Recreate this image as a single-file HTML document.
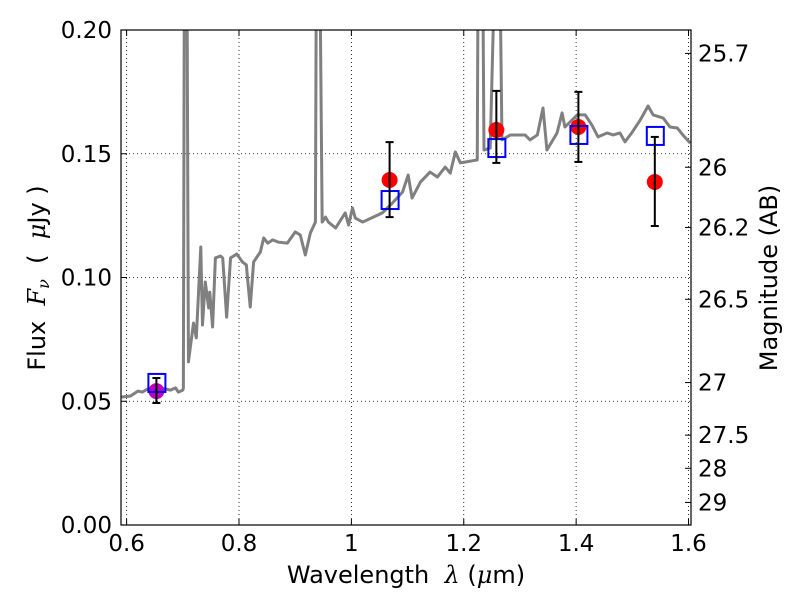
<!DOCTYPE html>
<html><head><meta charset="utf-8"><style>
body{margin:0;background:#fff;}
svg text{font-family:"DejaVu Sans","Liberation Sans",sans-serif;fill:#000;}
.m{font-family:"DejaVu Serif","Liberation Serif",serif;font-style:italic;}
</style></head><body>
<svg id="chart" width="800" height="600" xmlns="http://www.w3.org/2000/svg">
<defs><clipPath id="clip"><rect x="121" y="30" width="570" height="495"/></clipPath></defs>
<g id="grid"></g>
<g id="spec" clip-path="url(#clip)"></g>
<g id="pts"></g>
<rect x="121" y="30" width="570" height="495" fill="none" stroke="#000" stroke-width="1.2"/>
<g id="axes"></g>
<text x="406" y="583" font-size="24" text-anchor="middle">Wavelength&#160;&#160;<tspan class="m">λ</tspan> (<tspan class="m">μ</tspan>m)</text>
<text transform="translate(45,278) rotate(-90)" font-size="24" text-anchor="middle">Flux&#160;&#160;<tspan class="m">F<tspan font-size="16" dy="4">ν</tspan></tspan><tspan dy="-4">&#160;&#160;(&#160;&#160;</tspan><tspan class="m">μ</tspan>Jy&#160;)</text>
<text transform="translate(777,278) rotate(-90)" font-size="24" text-anchor="middle">Magnitude (AB)</text>
</svg>
<script>
const specW=[0.591,0.607,0.620,0.628,0.637,0.643,0.652,0.660,0.678,0.687,0.692,0.700,0.701,0.703,0.707,0.710,0.719,0.724,0.732,0.735,0.740,0.746,0.748,0.753,0.758,0.767,0.771,0.778,0.785,0.796,0.806,0.813,0.820,0.826,0.838,0.844,0.851,0.860,0.870,0.886,0.900,0.909,0.918,0.927,0.936,0.938,0.943,0.948,0.954,0.959,0.972,0.989,0.995,1.002,1.007,1.020,1.039,1.055,1.073,1.091,1.101,1.108,1.123,1.140,1.153,1.167,1.176,1.185,1.194,1.224,1.226,1.233,1.236,1.247,1.258,1.263,1.268,1.283,1.309,1.318,1.331,1.341,1.348,1.366,1.375,1.380,1.402,1.416,1.428,1.439,1.455,1.466,1.478,1.487,1.500,1.514,1.528,1.537,1.555,1.567,1.580,1.590,1.603];
const specF=[0.0517,0.0521,0.0541,0.0537,0.0549,0.0545,0.0541,0.0554,0.0545,0.0554,0.0537,0.0545,0.0554,0.25,0.25,0.0659,0.0816,0.0756,0.1123,0.0808,0.0982,0.0877,0.0941,0.0800,0.1079,0.1087,0.1079,0.0840,0.1079,0.1095,0.1063,0.1051,0.0881,0.1063,0.1103,0.1160,0.1139,0.1152,0.1143,0.1139,0.1184,0.1172,0.1091,0.1180,0.1224,0.25,0.25,0.1224,0.1244,0.1224,0.1200,0.1261,0.1212,0.1281,0.1240,0.1224,0.1244,0.1261,0.1301,0.1345,0.1414,0.1321,0.1386,0.1426,0.1406,0.1446,0.1422,0.1507,0.1463,0.1475,0.25,0.25,0.1515,0.1523,0.25,0.25,0.1556,0.1576,0.1576,0.1556,0.1576,0.1685,0.1515,0.1584,0.1665,0.1608,0.1657,0.1657,0.1616,0.1568,0.1584,0.1576,0.1584,0.1548,0.1588,0.1636,0.1693,0.1657,0.1644,0.1608,0.1604,0.1576,0.1543];
const bandW=[0.653,1.068,1.258,1.404,1.540];
const obsF=[0.0541,0.1394,0.1596,0.1608,0.1386];
const errLo=[0.0493,0.1244,0.1463,0.1467,0.1208];
const errHi=[0.0594,0.1547,0.1754,0.1750,0.1568];
const modelF=[0.0574,0.1313,0.1523,0.1576,0.1572];
const obsColors=["#bf00bf","#ff0000","#ff0000","#ff0000","#ff0000"];
const xTicks=[0.6,0.8,1.0,1.2,1.4,1.6];
const xTickLabels=["0.6","0.8","1","1.2","1.4","1.6"];
const yTicks=[0,0.05,0.10,0.15,0.20];
const yTickLabels=["0.00","0.05","0.10","0.15","0.20"];
const magTicks=[25.7,26,26.2,26.5,27,27.5,28,29];
const magLabels=["25.7","26","26.2","26.5","27","27.5","28","29"];

const X0=121,X1=691,Y0=525,Y1=30,XMIN=0.59,XMAX=1.6044,YMIN=0,YMAX=0.2;
const sx=w=>X0+(w-XMIN)/(XMAX-XMIN)*(X1-X0);
const sy=f=>Y0-(f-YMIN)/(YMAX-YMIN)*(Y0-Y1);
const NS="http://www.w3.org/2000/svg";
function mk(tag,attrs,parent){const e=document.createElementNS(NS,tag);for(const k in attrs)e.setAttribute(k,attrs[k]);parent.appendChild(e);return e;}
const grid=document.getElementById('grid'),axes=document.getElementById('axes');
xTicks.forEach((v,i)=>{const x=sx(v);
 const g=mk('line',{x1:x,x2:x,y1:Y1,y2:Y0,stroke:'#000','stroke-width':0.8,'stroke-dasharray':'1,3'},grid);
 
 
 mk('line',{x1:x,x2:x,y1:Y0,y2:Y0-6,stroke:'#000'},axes);
 mk('line',{x1:x,x2:x,y1:Y1,y2:Y1+6,stroke:'#000'},axes);
 const t=mk('text',{x:x,y:551,'font-size':23,'text-anchor':'middle'},axes);t.textContent=xTickLabels[i];
 
 
});
yTicks.forEach((v,i)=>{const y=sy(v);
 const g=mk('line',{x1:X0,x2:X1,y1:y,y2:y,stroke:'#000','stroke-width':0.8,'stroke-dasharray':'1,3'},grid);
 
 
 mk('line',{x1:X0,x2:X0+6,y1:y,y2:y,stroke:'#000'},axes);
 const t=mk('text',{x:112,y:y+8,'font-size':23,'text-anchor':'end'},axes);t.textContent=yTickLabels[i];
 
 
});
magTicks.forEach((m,i)=>{const y=sy(Math.pow(10,(23.9-m)/2.5));
 mk('line',{x1:X1,x2:X1-6,y1:y,y2:y,stroke:'#000'},axes);
 const t=mk('text',{x:698,y:y+8,'font-size':23},axes);t.textContent=magLabels[i];
 
 
});
const spec=document.getElementById('spec');
const p=mk('polyline',{points:specW.map((w,i)=>sx(w)+','+sy(specF[i])).join(' '),fill:'none',stroke:'#808080','stroke-width':3,'stroke-linejoin':'round'},spec);


const pts=document.getElementById('pts');
bandW.forEach((w,i)=>{const x=sx(w);
 const c=mk('circle',{cx:x,cy:sy(obsF[i]),r:8,fill:obsColors[i]},pts);
 
 
 const s=mk('rect',{x:x-8,y:sy(modelF[i])-9,width:17,height:18,fill:'none',stroke:'#0000ff','stroke-width':2},pts);
 
 
 const e=mk('g',{},pts);
 
 
 mk('line',{x1:x,x2:x,y1:sy(errLo[i]),y2:sy(errHi[i]),stroke:'#000','stroke-width':2},e);
 mk('line',{x1:x-4,x2:x+4,y1:sy(errLo[i]),y2:sy(errLo[i]),stroke:'#000','stroke-width':2},e);
 mk('line',{x1:x-4,x2:x+4,y1:sy(errHi[i]),y2:sy(errHi[i]),stroke:'#000','stroke-width':2},e);
});
</script>
</body></html>
